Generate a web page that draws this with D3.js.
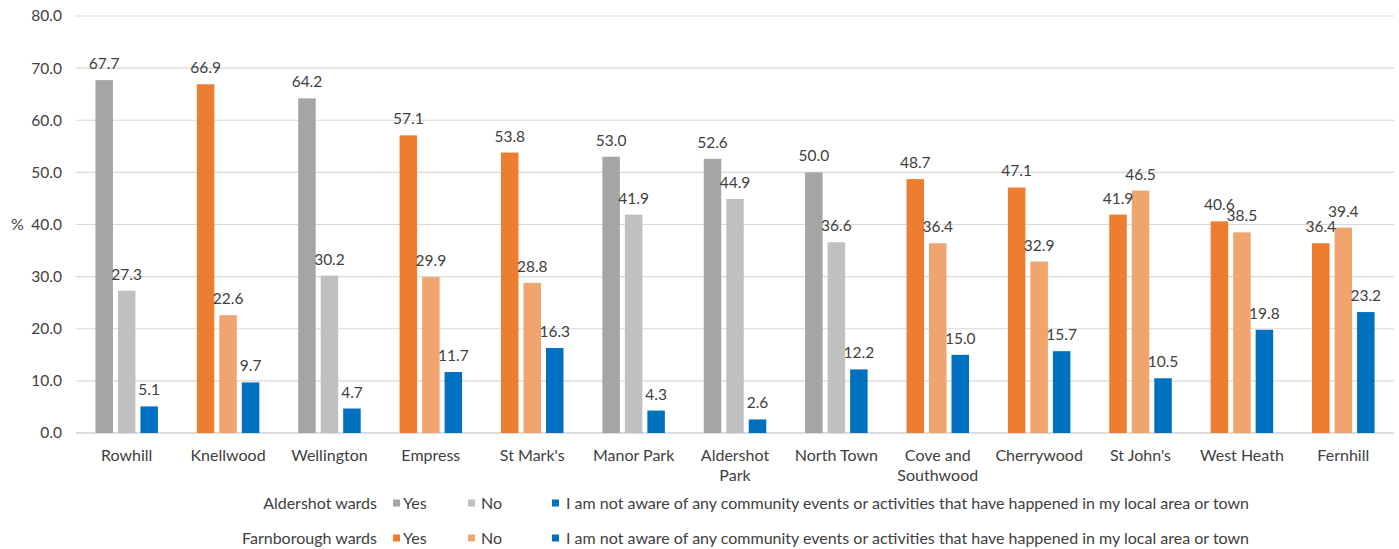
<!DOCTYPE html>
<html>
<head>
<meta charset="utf-8">
<script src="https://cdn.jsdelivr.net/npm/d3@7"></script>
<style>
  html, body { margin: 0; padding: 0; background: #fff; }
  svg { display: block; }
  text { font-family: Lato, "Open Sans", sans-serif; fill: #404040; }
</style>
</head>
<body>
<svg id="chart" width="1399" height="549"></svg>
<script>
const wards = ["Rowhill", "Knellwood", "Wellington", "Empress", "St Mark's", "Manor Park", "Aldershot Park", "North Town", "Cove and Southwood", "Cherrywood", "St John's", "West Heath", "Fernhill"];
const wardLabels = [["Rowhill"], ["Knellwood"], ["Wellington"], ["Empress"], ["St Mark's"], ["Manor Park"], ["Aldershot", "Park"], ["North Town"], ["Cove and", "Southwood"], ["Cherrywood"], ["St John's"], ["West Heath"], ["Fernhill"]];
const town = ["A", "F", "A", "F", "F", "A", "A", "A", "F", "F", "F", "F", "F"];
const yesValues = [67.7, 66.9, 64.2, 57.1, 53.8, 53.0, 52.6, 50.0, 48.7, 47.1, 41.9, 40.6, 36.4];
const noValues = [27.3, 22.6, 30.2, 29.9, 28.8, 41.9, 44.9, 36.6, 36.4, 32.9, 46.5, 38.5, 39.4];
const notAwareValues = [5.1, 9.7, 4.7, 11.7, 16.3, 4.3, 2.6, 12.2, 15.0, 15.7, 10.5, 19.8, 23.2];
const seriesKeys = ["yes", "no", "na"];
const yTicks = [0, 10, 20, 30, 40, 50, 60, 70, 80];
const legendGroups = ["Aldershot wards", "Farnborough wards"];
const legendItems = ["Yes", "No", "I am not aware of any community events or activities that have happened in my local area or town"];

const colors = {
  A: { yes: "#A5A5A5", no: "#C0C0C0", na: "#0070C0" },
  F: { yes: "#ED7D31", no: "#F0A46E", na: "#0070C0" }
};

const svg = d3.select("#chart");
const plotLeft = 76, plotRight = 1394, plotTop = 16, plotBottom = 433;

const x = d3.scaleBand().domain(wards).range([plotLeft, plotRight]).paddingInner(0).paddingOuter(0);
const xs = d3.scaleBand().domain(seriesKeys).range([0, x.bandwidth()]).paddingInner(0.222).paddingOuter(0.864);
const y = d3.scaleLinear().domain([0, 80]).range([plotBottom, plotTop]);

// gridlines
svg.append("g").selectAll("line").data(yTicks).join("line")
  .attr("x1", plotLeft).attr("x2", plotRight)
  .attr("y1", d => y(d)).attr("y2", d => y(d))
  .attr("stroke", d => d === 0 ? "#D0D0D0" : "#D9D9D9").attr("stroke-width", d => d === 0 ? 1.5 : 1.2);

// y axis labels
const yAxis = d3.axisLeft(y).tickValues(yTicks).tickFormat(d3.format(".1f")).tickSize(0).tickPadding(0);
const ya = svg.append("g").attr("transform", `translate(62,0)`).call(yAxis);
ya.select(".domain").remove();
ya.selectAll("text").attr("font-size", 15.5).attr("fill", "#404040").style("font-family", "Lato, 'Open Sans', sans-serif");

svg.append("text").attr("x", 11).attr("y", 230).attr("font-size", 16).text("%");

// data rows
const rows = wards.map((w, i) => ({ w, i, town: town[i], yes: yesValues[i], no: noValues[i], na: notAwareValues[i] }));
const bars = [];
rows.forEach(r => seriesKeys.forEach(k => bars.push({ w: r.w, key: k, value: r[k], color: colors[r.town][k] })));

svg.append("g").selectAll("rect").data(bars).join("rect")
  .attr("x", d => x(d.w) + xs(d.key))
  .attr("width", xs.bandwidth())
  .attr("y", d => y(d.value))
  .attr("height", d => y(0) - y(d.value))
  .attr("fill", d => d.color);

svg.append("g").selectAll("text").data(bars).join("text")
  .attr("x", d => x(d.w) + xs(d.key) + xs.bandwidth() / 2)
  .attr("y", d => y(d.value) - 11)
  .attr("text-anchor", "middle")
  .attr("font-size", 15.5)
  .text(d => d3.format(".1f")(d.value));

// category labels
const cat = svg.append("g").selectAll("text").data(rows).join("text")
  .attr("x", d => x(d.w) + x.bandwidth() / 2)
  .attr("y", 461)
  .attr("text-anchor", "middle")
  .attr("font-size", 16);
cat.selectAll("tspan").data(d => wardLabels[d.i].map((t, j) => ({ t, j }))).join("tspan")
  .attr("x", function () { return d3.select(this.parentNode).attr("x"); })
  .attr("dy", d => d.j === 0 ? 0 : 20)
  .text(d => d.t);

// legend
const legendRowY = [503, 538];
const swatchX = [393, 468, 552];
const textX = [403, 481, 566];
legendGroups.forEach((g, gi) => {
  const ly = legendRowY[gi];
  const tk = gi === 0 ? "A" : "F";
  svg.append("text").attr("x", 377).attr("y", ly + 5.5).attr("text-anchor", "end").attr("font-size", 16).text(g);
  legendItems.forEach((item, ii) => {
    svg.append("rect").attr("x", swatchX[ii]).attr("y", ly - 3.5).attr("width", 7).attr("height", 7)
      .attr("fill", colors[tk][seriesKeys[ii]]);
    svg.append("text").attr("x", textX[ii]).attr("y", ly + 5.5).attr("font-size", 16).text(item);
  });
});
</script>
</body>
</html>
